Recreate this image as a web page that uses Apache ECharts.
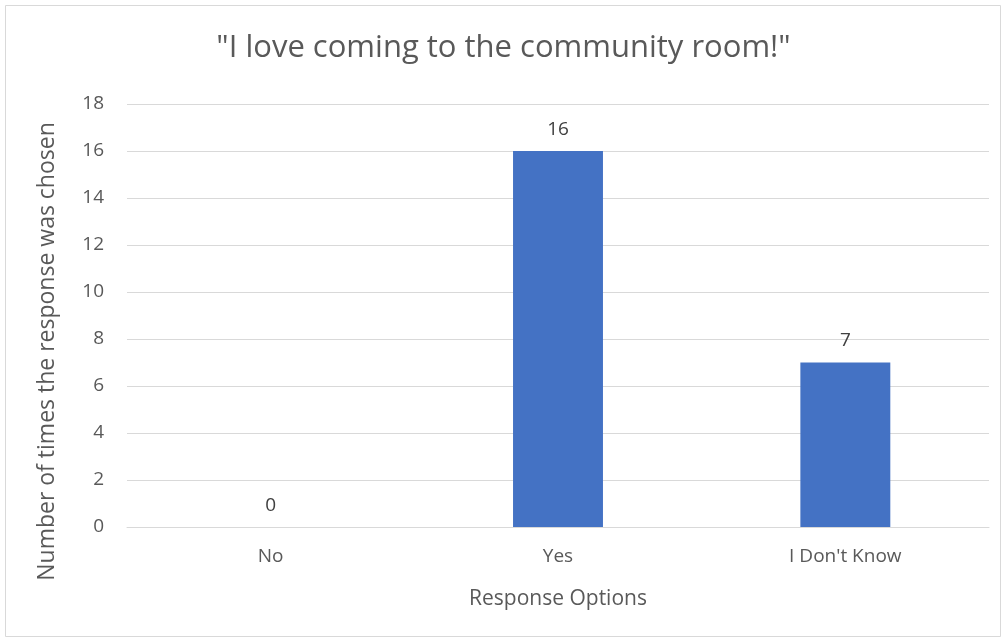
<!DOCTYPE html>
<html><head><meta charset="utf-8">
<script src="https://cdn.jsdelivr.net/npm/echarts@6/dist/echarts.min.js"></script>
<style>html,body{margin:0;padding:0;background:#fff;}#c{width:1007px;height:643px;}</style>
</head><body><div id="c"></div>
<script>
const titleText = '"I love coming to the community room!"';
const categories = ['No', 'Yes', "I Don't Know"];
const values = [0, 16, 7];
const yTicks = [0, 2, 4, 6, 8, 10, 12, 14, 16, 18];
const xName = 'Response Options';
const yName = 'Number of times the response was chosen';

const font = '"Open Sans", "Noto Sans", sans-serif';
const chart = echarts.init(document.getElementById('c'), null, {renderer: 'canvas'});
chart.setOption({
  animation: false,
  backgroundColor: '#fff',
  graphic: [{type: 'rect', shape: {x: 5.5, y: 5.5, width: 995, height: 631}, style: {fill: 'none', stroke: '#d9d9d9', lineWidth: 1}, silent: true}],
  title: {text: titleText, left: 'center', top: 28, textStyle: {fontFamily: font, fontSize: 31, fontWeight: 'normal', color: '#595959'}},
  grid: {left: 127, right: 18, top: 104, bottom: 116},
  xAxis: {
    type: 'category', data: categories,
    name: xName, nameLocation: 'middle', nameGap: 62,
    nameTextStyle: {fontFamily: font, fontSize: 21, color: '#595959'},
    axisLine: {lineStyle: {color: '#d9d9d9', width: 1}},
    axisTick: {show: false},
    axisLabel: {fontFamily: font, fontSize: 19, color: '#595959', margin: 20}
  },
  yAxis: {
    type: 'value', min: yTicks[0], max: yTicks[yTicks.length - 1], interval: 2,
    name: yName, nameLocation: 'middle', nameGap: 68, nameRotate: 90,
    nameTextStyle: {fontFamily: font, fontSize: 23, color: '#595959', padding: [0, 72, 0, 0]},
    axisLine: {show: false}, axisTick: {show: false},
    axisLabel: {fontFamily: font, fontSize: 19, color: '#595959', margin: 23},
    splitLine: {lineStyle: {color: '#d9d9d9', width: 1}}
  },
  series: [{
    type: 'bar', data: values, barWidth: '31.3%',
    itemStyle: {color: '#4472C4'},
    label: {show: true, position: 'top', distance: 12, fontFamily: font, fontSize: 19, color: '#404040'}
  }]
});
</script></body></html>
